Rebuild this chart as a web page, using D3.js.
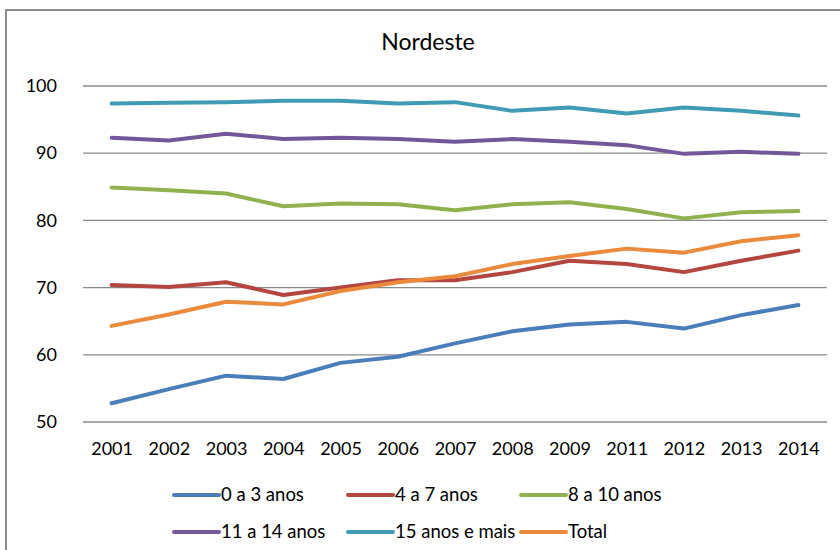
<!DOCTYPE html>
<html>
<head>
<meta charset="utf-8">
<title>Nordeste</title>
<script src="https://cdnjs.cloudflare.com/ajax/libs/d3/7.8.5/d3.min.js"></script>
<style>
  body { margin: 0; background: #fff; }
  svg { display: block; font-family: Lato, "Open Sans", sans-serif; }
  .grid line { stroke: #8a8a8a; stroke-width: 1.3px; }
  .line { fill: none; stroke-width: 4px; stroke-linejoin: round; stroke-linecap: round; }
</style>
</head>
<body>
<div id="chart"></div>
<script>
var years = ["2001","2002","2003","2004","2005","2006","2007","2008","2009","2011","2012","2013","2014"];
var yTicks = [50, 60, 70, 80, 90, 100];

var seriesNames = ["0 a 3 anos","4 a 7 anos","8 a 10 anos","11 a 14 anos","15 anos e mais","Total"];
var colors = ["#4a7ebb","#b4453f","#8fb14e","#725899","#409cb5","#ea8a3c"];

var s0a3   = [52.8, 54.9, 56.9, 56.4, 58.8, 59.7, 61.7, 63.5, 64.5, 64.9, 63.9, 65.9, 67.4];
var s4a7   = [70.4, 70.1, 70.8, 68.9, 70.0, 71.1, 71.1, 72.3, 74.0, 73.5, 72.3, 74.0, 75.5];
var s8a10  = [84.9, 84.5, 84.0, 82.1, 82.5, 82.4, 81.5, 82.4, 82.7, 81.7, 80.3, 81.2, 81.4];
var s11a14 = [92.3, 91.9, 92.9, 92.1, 92.3, 92.1, 91.7, 92.1, 91.7, 91.2, 89.9, 90.2, 89.9];
var s15    = [97.4, 97.5, 97.6, 97.8, 97.8, 97.4, 97.6, 96.3, 96.8, 95.9, 96.8, 96.3, 95.6];
var total  = [64.3, 66.0, 67.9, 67.5, 69.5, 70.8, 71.7, 73.5, 74.7, 75.8, 75.2, 76.9, 77.8];

var seriesValues = [s0a3, s4a7, s8a10, s11a14, s15, total];

var W = 840, H = 550;
var margin = {top: 86, right: 13, bottom: 128, left: 83};
var width = W - margin.left - margin.right;
var height = H - margin.top - margin.bottom;

var svg = d3.select("#chart").append("svg")
  .attr("width", W)
  .attr("height", H);

// outer frame (only top and left edge visible)
svg.append("path")
  .attr("d", "M6,550 V10 H840")
  .attr("fill", "none")
  .attr("stroke", "#8c8c8c")
  .attr("stroke-width", 2);

svg.append("text")
  .attr("x", 428)
  .attr("y", 50)
  .attr("text-anchor", "middle")
  .attr("font-size", 23)
  .attr("fill", "#000")
  .text("Nordeste");

var g = svg.append("g")
  .attr("transform", "translate(" + margin.left + "," + margin.top + ")");

var x = d3.scalePoint().domain(years).range([0, width]).padding(0.5);
var y = d3.scaleLinear().domain([50, 100]).range([height, 0]);

// gridlines
g.append("g").attr("class", "grid")
  .selectAll("line").data(yTicks).enter().append("line")
  .attr("x1", 0).attr("x2", width)
  .attr("y1", function(d){ return y(d); })
  .attr("y2", function(d){ return y(d); });

// y axis labels
var yAxis = g.append("g")
  .call(d3.axisLeft(y).tickValues(yTicks).tickSize(0).tickPadding(26));
yAxis.select(".domain").remove();
yAxis.selectAll("text").attr("font-size", 18).attr("font-family", "Lato, sans-serif").attr("fill", "#000");

// x axis labels
var xAxis = g.append("g")
  .attr("transform", "translate(0," + height + ")")
  .call(d3.axisBottom(x).tickSize(0).tickPadding(20));
xAxis.select(".domain").remove();
xAxis.selectAll("text").attr("font-size", 18).attr("font-family", "Lato, sans-serif").attr("fill", "#000");

var line = d3.line()
  .x(function(d, i){ return x(years[i]); })
  .y(function(d){ return y(d); });

g.selectAll(".line").data(seriesValues).enter().append("path")
  .attr("class", "line")
  .attr("stroke", function(d, i){ return colors[i]; })
  .attr("d", line);

// legend, 3 per row
var legendX = [174, 348, 521];
var legendY = [495, 532];
var legend = svg.selectAll(".legend").data(seriesNames).enter().append("g")
  .attr("class", "legend")
  .attr("transform", function(d, i){
    return "translate(" + legendX[i % 3] + "," + legendY[Math.floor(i / 3)] + ")";
  });
legend.append("line")
  .attr("x1", 0).attr("x2", 45)
  .attr("stroke", function(d, i){ return colors[i]; })
  .attr("stroke-width", 4)
  .attr("stroke-linecap", "round");
legend.append("text")
  .attr("x", 47)
  .attr("dy", "0.35em")
  .attr("font-size", 18.5)
  .attr("fill", "#000")
  .text(function(d){ return d; });
</script>
</body>
</html>
